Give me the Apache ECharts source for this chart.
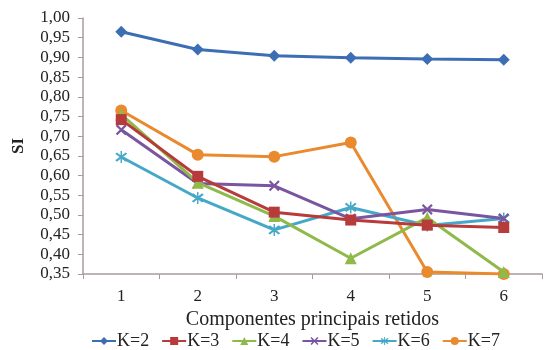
<!DOCTYPE html>
<html>
<head>
<meta charset="utf-8">
<script src="https://cdn.jsdelivr.net/npm/echarts@6/dist/echarts.min.js"></script>
<style>html,body{margin:0;padding:0;background:#fff}#c{width:545px;height:350px}</style>
</head>
<body>
<div id="c"></div>
<script>
const categories = ['1', '2', '3', '4', '5', '6'];
const seriesNames = ['K=2', 'K=3', 'K=4', 'K=5', 'K=6', 'K=7'];
const k2 = [0.965, 0.920, 0.904, 0.899, 0.896, 0.894];
const k3 = [0.742, 0.598, 0.507, 0.487, 0.474, 0.468];
const k4 = [0.755, 0.582, 0.497, 0.390, 0.493, 0.355];
const k5 = [0.716, 0.580, 0.574, 0.490, 0.514, 0.491];
const k6 = [0.647, 0.543, 0.462, 0.519, 0.473, 0.491];
const k7 = [0.765, 0.653, 0.648, 0.684, 0.355, 0.350];
const yTicks = ['0,35','0,40','0,45','0,50','0,55','0,60','0,65','0,70','0,75','0,80','0,85','0,90','0,95','1,00'];

const allData = [k2, k3, k4, k5, k6, k7];
const colors = ['#3d6eb3', '#b83b3b', '#8fba4a', '#7a55a0', '#46a8c8', '#ea8a2e'];
const xPath = 'path://M0,1.4L1.4,0L5,3.6L8.6,0L10,1.4L6.4,5L10,8.6L8.6,10L5,6.4L1.4,10L0,8.6L3.6,5Z';
const starPath = 'path://M0,1.4L1.4,0L5,3.6L8.6,0L10,1.4L6.4,5L10,8.6L8.6,10L5,6.4L1.4,10L0,8.6L3.6,5Z M4.4,-1.5L5.6,-1.5L5.6,11.5L4.4,11.5Z';
const symbols = ['diamond', 'rect', 'triangle', xPath, starPath, 'circle'];
const sizes = [12, 11, 12, 11, 12, 12];
const font = "'Liberation Serif', 'Times New Roman', serif";

const chart = echarts.init(document.getElementById('c'));
chart.setOption({
  animation: false,
  backgroundColor: '#fff',
  grid: { left: 83, right: 3, top: 18, bottom: 76 },
  legend: {
    top: 327,
    left: 86,
    itemWidth: 24,
    itemHeight: 10,
    itemGap: 12,
    textStyle: { fontFamily: font, fontSize: 18, color: '#222', padding: [0,0,0,-4] },
    data: seriesNames
  },
  xAxis: {
    type: 'category',
    data: categories,
    boundaryGap: true,
    name: 'Componentes principais retidos',
    nameLocation: 'middle',
    nameGap: 27,
    nameTextStyle: { fontFamily: font, fontSize: 20, color: '#222' },
    axisLine: { lineStyle: { color: '#a59c9c', width: 1.5 } },
    axisTick: { show: true, length: 5, lineStyle: { color: '#a59c9c' } },
    axisLabel: { fontFamily: font, fontSize: 17, color: '#222', margin: 14 }
  },
  yAxis: {
    type: 'value',
    min: 0.35,
    max: 1.0,
    interval: 0.05,
    name: 'SI',
    nameLocation: 'middle',
    nameGap: 56,
    nameRotate: 90,
    nameTextStyle: { fontFamily: font, fontSize: 17, color: '#222', fontWeight: 'bold' },
    splitLine: { show: false },
    axisLine: { show: true, lineStyle: { color: '#a59c9c', width: 1.5 } },
    axisTick: { show: true, length: 5, lineStyle: { color: '#a59c9c' } },
    axisLabel: {
      fontFamily: font, fontSize: 17, color: '#222', margin: 13,
      formatter: function (v) {
        const i = Math.round((v - 0.35) / 0.05);
        return yTicks[i] !== undefined ? yTicks[i] : '';
      }
    }
  },
  series: seriesNames.map(function (name, i) {
    return {
      name: name,
      type: 'line',
      data: allData[i],
      symbol: symbols[i],
      symbolSize: sizes[i],
      showAllSymbol: true,
      lineStyle: { color: colors[i], width: 3 },
      itemStyle: { color: colors[i] },
      z: 10 - i
    };
  })
});
</script>
</body>
</html>
